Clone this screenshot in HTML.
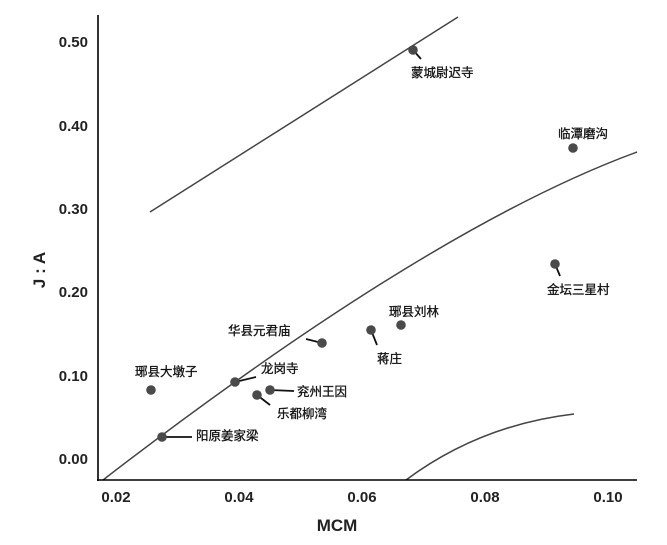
<!DOCTYPE html><html><head><meta charset="utf-8"><style>body{margin:0;background:#fff}</style></head><body>
<svg width="667" height="540" xmlns="http://www.w3.org/2000/svg" font-family="Liberation Sans, Noto Sans CJK SC, sans-serif">
<g stroke="#444" stroke-width="1.5" fill="none">
<line x1="150" y1="212" x2="458" y2="17"/>
<path d="M103,480 Q430,228 637,152"/>
<path d="M406,480 Q480,425 574,414"/>
</g>
<g stroke="#000" stroke-width="1.6">
<line x1="98" y1="15" x2="98" y2="481"/><line x1="97" y1="480" x2="637" y2="480"/>
</g>
<g font-size="15" font-weight="bold" fill="#222" text-anchor="end">
<text x="88" y="47">0.50</text><text x="88" y="131">0.40</text><text x="88" y="214">0.30</text>
<text x="88" y="297">0.20</text><text x="88" y="381">0.10</text><text x="88" y="464">0.00</text>
</g>
<g font-size="15" font-weight="bold" fill="#222" text-anchor="middle">
<text x="116" y="502">0.02</text><text x="239" y="502">0.04</text><text x="362" y="502">0.06</text>
<text x="485" y="502">0.08</text><text x="608" y="502">0.10</text>
<text x="337" y="531" font-size="17">MCM</text>
</g>
<text transform="translate(45,270) rotate(-90)" font-size="17" font-weight="bold" text-anchor="middle" fill="#222">J : A</text>
<g stroke="#111" stroke-width="1.8">
<line x1="413" y1="50" x2="421" y2="59"/><line x1="555" y1="264" x2="560" y2="276"/>
<line x1="371" y1="330" x2="377" y2="345"/><line x1="322" y1="343" x2="306" y2="339"/>
<line x1="235" y1="382" x2="256" y2="377"/><line x1="270" y1="390" x2="294" y2="391"/>
<line x1="257" y1="395" x2="270" y2="405"/><line x1="162" y1="437" x2="192" y2="437"/>
</g>
<g fill="#4a4a4a">
<circle cx="413" cy="50" r="4.8"/><circle cx="573" cy="148" r="4.8"/><circle cx="555" cy="264" r="4.8"/>
<circle cx="401" cy="325" r="4.8"/><circle cx="371" cy="330" r="4.8"/><circle cx="322" cy="343" r="4.8"/>
<circle cx="235" cy="382" r="4.8"/><circle cx="270" cy="390" r="4.8"/><circle cx="257" cy="395" r="4.8"/>
<circle cx="151" cy="390" r="4.8"/><circle cx="162" cy="437" r="4.8"/>
</g>
<g font-size="12.5" fill="#111" stroke="#111" stroke-width="0.3">
<text x="411" y="77">蒙城尉迟寺</text><text x="558" y="138">临潭磨沟</text><text x="547" y="294">金坛三星村</text>
<text x="389" y="316">琊县刘林</text><text x="377" y="363">蒋庄</text><text x="228" y="335">华县元君庙</text>
<text x="261" y="373">龙岗寺</text><text x="297" y="396">兖州王因</text><text x="277" y="418">乐都柳湾</text>
<text x="135" y="376">琊县大墩子</text><text x="196" y="440">阳原姜家梁</text>
</g>
</svg></body></html>
